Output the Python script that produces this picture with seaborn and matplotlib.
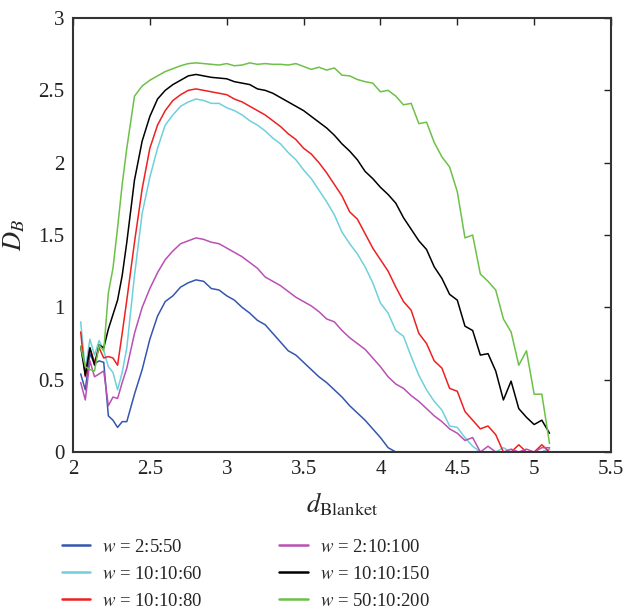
import numpy as np
import pandas as pd
import matplotlib
matplotlib.use("Agg")
import matplotlib.pyplot as plt
import seaborn as sns
from matplotlib.lines import Line2D

# ---- data ----
x_vals = [2.05, 2.08, 2.11, 2.14, 2.17, 2.20, 2.23, 2.26, 2.29, 2.32, 2.35,
          2.40, 2.45, 2.50, 2.55, 2.60, 2.65, 2.70, 2.75, 2.80, 2.85, 2.90,
          2.95, 3.00, 3.05, 3.10, 3.15, 3.20, 3.25, 3.30, 3.35, 3.40, 3.45,
          3.50, 3.55, 3.60, 3.65, 3.70, 3.75, 3.80, 3.85, 3.90, 3.95, 4.00,
          4.05, 4.10, 4.15, 4.20, 4.25, 4.30, 4.35, 4.40, 4.45, 4.50, 4.55,
          4.60, 4.65, 4.70, 4.75, 4.80, 4.85, 4.90, 4.95, 5.00, 5.05, 5.10]

w_2_5_50 = [0.54, 0.43, 0.68, 0.61, 0.63, 0.62, 0.25, 0.22, 0.17, 0.21, 0.21,
            0.40, 0.57, 0.78, 0.94, 1.04, 1.08, 1.14, 1.17, 1.19, 1.18, 1.13,
            1.12, 1.08, 1.05, 1.00, 0.96, 0.91, 0.88, 0.82, 0.76, 0.70, 0.67,
            0.62, 0.57, 0.52, 0.48, 0.43, 0.38, 0.32, 0.27, 0.22, 0.16, 0.10,
            0.03, 0.00, 0.00, 0.00, 0.00, 0.00, 0.00, 0.00, 0.00, 0.00, 0.00,
            0.00, 0.00, 0.00, 0.00, 0.00, 0.00, 0.00, 0.00, 0.00, 0.00, 0.02]

w_2_10_100 = [0.48, 0.36, 0.63, 0.52, 0.54, 0.56, 0.32, 0.38, 0.37, 0.48, 0.58,
              0.82, 1.00, 1.13, 1.24, 1.33, 1.39, 1.44, 1.46, 1.48, 1.47, 1.45,
              1.44, 1.41, 1.38, 1.35, 1.31, 1.27, 1.21, 1.18, 1.15, 1.11, 1.07,
              1.04, 1.01, 0.97, 0.92, 0.90, 0.84, 0.79, 0.75, 0.71, 0.65, 0.59,
              0.52, 0.47, 0.44, 0.39, 0.35, 0.30, 0.25, 0.21, 0.16, 0.13, 0.08,
              0.10, 0.00, 0.04, 0.00, 0.00, 0.02, 0.00, 0.02, 0.00, 0.03, 0.03]

w_10_10_60 = [0.90, 0.57, 0.78, 0.67, 0.77, 0.70, 0.59, 0.55, 0.43, 0.55, 0.72,
              1.22, 1.65, 1.90, 2.10, 2.26, 2.33, 2.39, 2.42, 2.44, 2.43, 2.41,
              2.41, 2.38, 2.36, 2.33, 2.29, 2.26, 2.22, 2.17, 2.13, 2.07, 2.02,
              1.95, 1.89, 1.81, 1.73, 1.64, 1.52, 1.44, 1.37, 1.28, 1.17, 1.03,
              0.96, 0.84, 0.80, 0.66, 0.53, 0.43, 0.35, 0.29, 0.18, 0.17, 0.10,
              0.04, 0.00, 0.00, 0.00, 0.03, 0.00, 0.00, 0.00, 0.00, 0.00, 0.02]

w_10_10_80 = [0.83, 0.52, 0.72, 0.62, 0.72, 0.65, 0.66, 0.65, 0.60, 0.82, 1.05,
              1.45, 1.82, 2.10, 2.26, 2.36, 2.43, 2.47, 2.50, 2.51, 2.50, 2.49,
              2.48, 2.47, 2.44, 2.42, 2.39, 2.36, 2.33, 2.29, 2.25, 2.20, 2.16,
              2.10, 2.06, 2.00, 1.93, 1.85, 1.77, 1.66, 1.61, 1.51, 1.41, 1.33,
              1.25, 1.14, 1.04, 0.98, 0.82, 0.75, 0.63, 0.58, 0.44, 0.42, 0.28,
              0.22, 0.16, 0.18, 0.12, 0.00, 0.00, 0.05, 0.00, 0.00, 0.05, 0.00]

w_10_10_150 = [0.73, 0.53, 0.72, 0.60, 0.74, 0.72, 0.85, 0.95, 1.05, 1.22, 1.45,
               1.88, 2.15, 2.32, 2.44, 2.50, 2.54, 2.57, 2.60, 2.61, 2.60, 2.59,
               2.585, 2.58, 2.56, 2.55, 2.54, 2.51, 2.50, 2.48, 2.45, 2.42, 2.39,
               2.36, 2.32, 2.28, 2.24, 2.19, 2.13, 2.08, 2.02, 1.94, 1.89, 1.83,
               1.78, 1.72, 1.62, 1.54, 1.46, 1.40, 1.28, 1.20, 1.09, 1.05, 0.87,
               0.84, 0.67, 0.68, 0.56, 0.36, 0.49, 0.30, 0.24, 0.19, 0.22, 0.13]

w_50_10_200 = [0.73, 0.59, 0.57, 0.56, 0.74, 0.70, 1.10, 1.27, 1.55, 1.85, 2.10,
               2.46, 2.53, 2.57, 2.60, 2.63, 2.65, 2.67, 2.685, 2.69, 2.685, 2.68,
               2.675, 2.685, 2.67, 2.675, 2.69, 2.68, 2.685, 2.68, 2.68, 2.675, 2.685,
               2.665, 2.645, 2.66, 2.64, 2.655, 2.605, 2.60, 2.575, 2.56, 2.55, 2.49,
               2.50, 2.46, 2.40, 2.41, 2.27, 2.28, 2.14, 2.04, 1.97, 1.80, 1.48,
               1.50, 1.23, 1.18, 1.12, 0.92, 0.83, 0.60, 0.70, 0.40, 0.40, 0.06]

series_labels = ["2:5:50", "10:10:60", "10:10:80", "2:10:100", "10:10:150", "50:10:200"]
series_values = [w_2_5_50, w_10_10_60, w_10_10_80, w_2_10_100, w_10_10_150, w_50_10_200]
series_colors = ["#3556b0", "#6fd0dc", "#ee2020", "#b950b4", "#000000", "#6cc147"]

x_ticks = [2, 2.5, 3, 3.5, 4, 4.5, 5, 5.5]
y_ticks = [0, 0.5, 1, 1.5, 2, 2.5, 3]
x_ticklabels = ["2", "2.5", "3", "3.5", "4", "4.5", "5", "5.5"]
y_ticklabels = ["0", "0.5", "1", "1.5", "2", "2.5", "3"]

# ---- long table ----
frames = []
for lab, vals in zip(series_labels, series_values):
    frames.append(pd.DataFrame({"x": x_vals, "y": vals, "w": lab}))
df = pd.concat(frames, ignore_index=True)
palette = dict(zip(series_labels, series_colors))

# ---- plot ----
sns.set_style("white")
plt.rcParams["font.family"] = ["Liberation Serif", "DejaVu Serif"]
plt.rcParams["mathtext.fontset"] = "stix"

fig = plt.figure(figsize=(6.25, 6.13), dpi=100)
ax = fig.add_axes([0.1168, 0.2626, 0.8608, 0.708])

sns.lineplot(data=df, x="x", y="y", hue="w", hue_order=series_labels,
             palette=palette, estimator=None, linewidth=1.1, ax=ax,
             legend=False, sort=False)

ax.set_xlim(2, 5.5)
ax.set_ylim(0, 3)
ax.set_xticks(x_ticks)
ax.set_xticklabels(x_ticklabels)
ax.set_yticks(y_ticks)
ax.set_yticklabels(y_ticklabels)
ax.tick_params(direction="in", top=True, right=True, length=5, width=1,
               labelsize=15, colors="#222222", pad=6)
for s in ax.spines.values():
    s.set_visible(True)
    s.set_linewidth(1.5)
    s.set_color("#333333")
    s.set_zorder(5)

ax.set_xlabel(r"$d_{\mathrm{Blanket}}$", fontsize=19, labelpad=8)
ax.set_ylabel(r"$D_B$", fontsize=19, labelpad=8)

handles = [Line2D([0], [0], color=c, lw=1.8) for c in series_colors]
labels = [r"$w$ = " + l for l in series_labels]
fig.legend(handles, labels, ncol=2, loc="upper left",
           bbox_to_anchor=(0.099, 0.121), frameon=False, fontsize=13.5,
           handlelength=1.5, handletextpad=0.65, columnspacing=4.1,
           labelspacing=0.52, borderpad=0, borderaxespad=0)

fig.savefig("out.png", dpi=100, facecolor="white")
